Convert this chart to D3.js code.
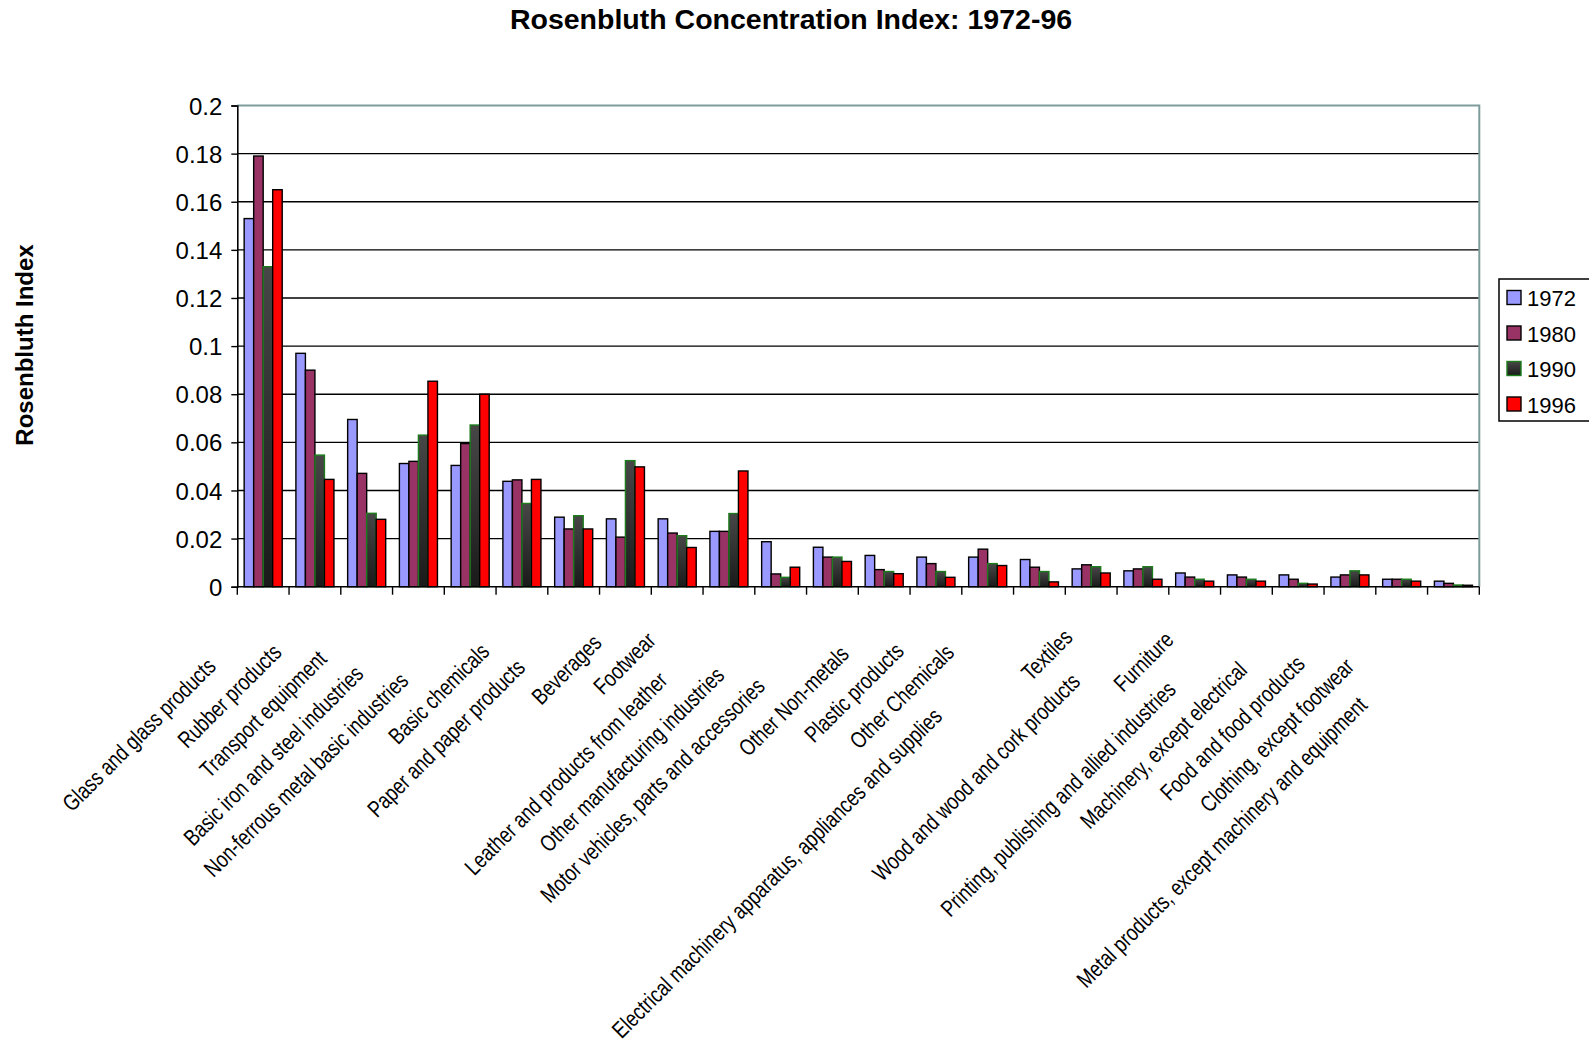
<!DOCTYPE html>
<html>
<head>
<meta charset="utf-8">
<script src="https://cdn.jsdelivr.net/npm/d3@7"></script>
<style>
  html, body { margin: 0; padding: 0; background: #ffffff; }
  svg { display: block; font-family: Arial, "Liberation Sans", sans-serif; }
</style>
</head>
<body>
<svg id="chart" width="1589" height="1045"></svg>
<script>
// Industries, ordered from most to least concentrated (1972)
const categories = [
  "Glass and glass products",
  "Rubber products",
  "Transport equipment",
  "Basic iron and steel industries",
  "Non-ferrous metal basic industries",
  "Basic chemicals",
  "Paper and paper products",
  "Beverages",
  "Footwear",
  "Leather and products from leather",
  "Other manufacturing industries",
  "Motor vehicles, parts and accessories",
  "Other Non-metals",
  "Plastic products",
  "Other Chemicals",
  "Electrical machinery apparatus, appliances and supplies",
  "Textiles",
  "Wood and wood and cork products",
  "Furniture",
  "Printing, publishing and allied industries",
  "Machinery, except electrical",
  "Food and food products",
  "Clothing, except footwear",
  "Metal products, except machinery and equipment"
];

const years = ["1972", "1980", "1990", "1996"];

// Rosenbluth index per industry, one array per year
const values1972 = [0.153, 0.097, 0.0695, 0.0512, 0.0504, 0.0438, 0.0289, 0.0282, 0.0282, 0.0230, 0.0187, 0.0164, 0.0130, 0.0123, 0.0123, 0.0113, 0.0074, 0.0066, 0.0057, 0.0049, 0.0049, 0.0040, 0.0031, 0.0023];
const values1980 = [0.179, 0.090, 0.0471, 0.0521, 0.0595, 0.0444, 0.0240, 0.0206, 0.0223, 0.0230, 0.0053, 0.0123, 0.0071, 0.0096, 0.0156, 0.0081, 0.0091, 0.0074, 0.0040, 0.0040, 0.0031, 0.0049, 0.0031, 0.0014];
const values1990 = [0.133, 0.0547, 0.0305, 0.0630, 0.0672, 0.0346, 0.0295, 0.0524, 0.0212, 0.0304, 0.0039, 0.0123, 0.0063, 0.0063, 0.0096, 0.0063, 0.0083, 0.0083, 0.0031, 0.0031, 0.0014, 0.0066, 0.0031, 0.0007];
const values1996 = [0.165, 0.0446, 0.0280, 0.0854, 0.0800, 0.0446, 0.0240, 0.0498, 0.0163, 0.0481, 0.0081, 0.0105, 0.0054, 0.0039, 0.0088, 0.0020, 0.0057, 0.0031, 0.0023, 0.0023, 0.0011, 0.0049, 0.0023, 0.0006];

const yTickValues = [0, 0.02, 0.04, 0.06, 0.08, 0.1, 0.12, 0.14, 0.16, 0.18, 0.2];
const yTickLabels = ["0", "0.02", "0.04", "0.06", "0.08", "0.1", "0.12", "0.14", "0.16", "0.18", "0.2"];

const chartTitle = "Rosenbluth Concentration Index: 1972-96";
const yAxisTitle = "Rosenbluth Index";

const seriesValues = [values1972, values1980, values1990, values1996];

// ---- layout & styles ----
const plot = { left: 237.3, right: 1479.3, top: 105.5, bottom: 586.7 };
const fills = { "1972": "#9999FF", "1980": "#993366", "1990": "url(#dark90)", "1996": "#FF0000" };
const strokes = { "1972": "#000", "1980": "#000", "1990": "#1c7c1c", "1996": "#000" };

const svg = d3.select("#chart");

const defs = svg.append("defs");
const grad = defs.append("linearGradient")
  .attr("id", "dark90").attr("x1", 0).attr("y1", 0).attr("x2", 0).attr("y2", 1);
grad.append("stop").attr("offset", "0%").attr("stop-color", "#474747");
grad.append("stop").attr("offset", "100%").attr("stop-color", "#1a1a1a");

const x0 = d3.scaleBand().domain(categories).range([plot.left, plot.right]).padding(0);
const x1 = d3.scaleBand().domain(years).range([0, x0.bandwidth()]).paddingInner(0).paddingOuter(0.72);
const y = d3.scaleLinear().domain([0, 0.2]).range([plot.bottom, plot.top]);

// horizontal gridlines
svg.append("g").selectAll("line")
  .data(yTickValues.filter(v => v > 0 && v < 0.2))
  .join("line")
  .attr("x1", plot.left).attr("x2", plot.right)
  .attr("y1", d => y(d)).attr("y2", d => y(d))
  .attr("stroke", "#000").attr("stroke-width", 1.4);

// plot area border (top and right)
svg.append("path")
  .attr("d", `M${plot.left},${y(0.2)}H${plot.right}V${plot.bottom}`)
  .attr("fill", "none").attr("stroke", "#7f9c9c").attr("stroke-width", 2);

// bars
const rows = categories.map((c, i) => ({ cat: c, vals: years.map((yr, k) => ({ year: yr, v: seriesValues[k][i] })) }));
const groups = svg.append("g").selectAll("g")
  .data(rows).join("g")
  .attr("transform", d => `translate(${x0(d.cat)},0)`);
groups.selectAll("rect")
  .data(d => d.vals).join("rect")
  .attr("x", d => x1(d.year))
  .attr("width", x1.bandwidth())
  .attr("y", d => y(d.v))
  .attr("height", d => y(0) - y(d.v))
  .attr("fill", d => fills[d.year])
  .attr("stroke", d => strokes[d.year])
  .attr("stroke-width", 1.4);

// y axis
const yAxis = svg.append("g")
  .attr("transform", `translate(${plot.left},0)`)
  .call(d3.axisLeft(y).tickValues(yTickValues).tickSize(6).tickPadding(9)
    .tickFormat((d, i) => yTickLabels[i]));
yAxis.select(".domain").attr("stroke", "#000").attr("stroke-width", 1.6);
yAxis.selectAll(".tick line").attr("stroke", "#000").attr("stroke-width", 1.4);
yAxis.selectAll(".tick text")
  .attr("font-family", "Arial, 'Liberation Sans', sans-serif")
  .attr("font-size", 24).attr("fill", "#000").attr("dy", "0.36em");

// x axis baseline and category boundary ticks
svg.append("line")
  .attr("x1", plot.left).attr("x2", plot.right)
  .attr("y1", y(0)).attr("y2", y(0))
  .attr("stroke", "#000").attr("stroke-width", 1.6);
const bounds = categories.map(c => x0(c)).concat([x0.range()[1]]);
svg.append("g").selectAll("line")
  .data(bounds).join("line")
  .attr("x1", d => d).attr("x2", d => d)
  .attr("y1", y(0)).attr("y2", y(0) + 8)
  .attr("stroke", "#000").attr("stroke-width", 1.4);

// rotated category labels, offset along their own direction
const labelScaleX = 0.795;
const labelG = svg.append("g");
categories.forEach(c => {
  const t = labelG.append("text")
    .attr("font-family", "Arial, 'Liberation Sans', sans-serif")
    .attr("font-size", 23)
    .attr("text-anchor", "end")
    .attr("fill", "#000")
    .text(c);
  const len = t.node().getComputedTextLength() * labelScaleX;
  const shift = 0.2 * len;
  const cx = x0(c) + x0.bandwidth() / 2;
  const ex = cx - shift - 5;
  const ey = y(0) + 40 + shift;
  t.attr("transform", `translate(${ex},${ey}) rotate(-45) scale(${labelScaleX},1)`);
});

// title
svg.append("text")
  .attr("x", 791).attr("y", 29)
  .attr("text-anchor", "middle")
  .attr("font-weight", "bold").attr("font-size", 28.5)
  .text(chartTitle);

// y axis title
svg.append("text")
  .attr("transform", "translate(33,345) rotate(-90)")
  .attr("text-anchor", "middle")
  .attr("font-weight", "bold").attr("font-size", 24)
  .text(yAxisTitle);

// legend
const legend = svg.append("g");
legend.append("rect")
  .attr("x", 1499).attr("y", 279).attr("width", 100).attr("height", 142)
  .attr("fill", "#fff").attr("stroke", "#000").attr("stroke-width", 1.5);
years.forEach((yr, i) => {
  legend.append("rect")
    .attr("x", 1507).attr("y", 290.5 + i * 35.5).attr("width", 14).attr("height", 14)
    .attr("fill", fills[yr]).attr("stroke", strokes[yr]).attr("stroke-width", 1.4);
  legend.append("text")
    .attr("x", 1527).attr("y", 306 + i * 35.5)
    .attr("font-size", 22).attr("fill", "#000")
    .text(yr);
});
</script>
</body>
</html>
